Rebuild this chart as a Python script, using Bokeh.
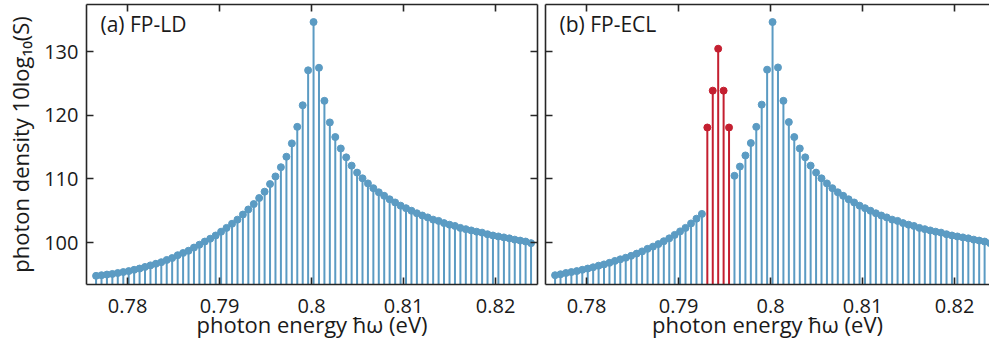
from bokeh.plotting import figure
from bokeh.models import LinearAxis, Range1d, FixedTicker, ColumnDataSource, Label
from bokeh.layouts import row
from bokeh.embed import file_html
from bokeh.resources import INLINE

# ---------------- data ----------------
energy = [
    0.77658, 0.77717, 0.77776, 0.77835, 0.77894, 0.77954, 0.78013, 0.78072, 0.78131, 0.78190,
    0.78249, 0.78308, 0.78367, 0.78426, 0.78485, 0.78545, 0.78604, 0.78663, 0.78722, 0.78781,
    0.78840, 0.78899, 0.78958, 0.79017, 0.79076, 0.79136, 0.79195, 0.79254, 0.79313, 0.79372,
    0.79431, 0.79490, 0.79549, 0.79608, 0.79667, 0.79727, 0.79786, 0.79845, 0.79904, 0.79963,
    0.80022,
    0.80081, 0.80140, 0.80199, 0.80258, 0.80318, 0.80377, 0.80436, 0.80495, 0.80554, 0.80613,
    0.80672, 0.80731, 0.80790, 0.80849, 0.80909, 0.80968, 0.81027, 0.81086, 0.81145, 0.81204,
    0.81263, 0.81322, 0.81381, 0.81440, 0.81500, 0.81559, 0.81618, 0.81677, 0.81736, 0.81795,
    0.81854, 0.81913, 0.81972, 0.82031, 0.82091, 0.82150, 0.82209, 0.82268, 0.82327, 0.82386,
]

ld_density = [
    94.75, 94.85, 94.95, 95.05, 95.2, 95.35, 95.5, 95.7, 95.9, 96.15,
    96.4, 96.65, 96.9, 97.25, 97.55, 98.0, 98.35, 98.7, 99.2, 99.65,
    100.15, 100.6, 101.1, 101.7, 102.3, 102.95, 103.6, 104.4, 105.2, 106.05,
    107.0, 108.0, 109.2, 110.4, 111.85, 113.5, 115.6, 118.2, 121.6, 127.1,
    134.7,
    127.5, 122.3, 118.9, 116.6, 114.8, 113.4, 112.1, 111.0, 110.1, 109.3,
    108.55, 107.9, 107.35, 106.8, 106.3, 105.8, 105.4, 105.0, 104.6, 104.25,
    103.95, 103.6, 103.4, 103.05, 102.8, 102.6, 102.3, 102.1, 101.9, 101.7,
    101.55, 101.3, 101.1, 100.95, 100.8, 100.65, 100.45, 100.3, 100.15, 99.9,
]

ecl_density = [
    94.85, 95.0, 95.2, 95.35, 95.5, 95.7, 95.9, 96.1, 96.35, 96.55,
    96.8, 97.1, 97.35, 97.6, 97.9, 98.25, 98.6, 99.0, 99.35, 99.75,
    100.2, 100.65, 101.2, 101.75, 102.3, 103.0, 103.75, 104.5, 118.1, 123.9,
    130.5, 123.9, 118.1, 110.5, 111.95, 113.7, 115.65, 118.2, 121.7, 127.2,
    134.7,
    127.55, 122.3, 118.95, 116.6, 114.8, 113.4, 112.1, 111.0, 110.1, 109.3,
    108.55, 107.9, 107.35, 106.8, 106.3, 105.8, 105.4, 105.0, 104.6, 104.25,
    103.95, 103.6, 103.4, 103.05, 102.8, 102.6, 102.3, 102.1, 101.9, 101.7,
    101.55, 101.3, 101.1, 100.95, 100.8, 100.65, 100.45, 100.3, 100.15, 99.9,
]

# indices of the external-cavity (red) modes in panel (b)
ecl_locked = [28, 29, 30, 31, 32]

x_ticks = [0.78, 0.79, 0.80, 0.81, 0.82]
x_tick_labels = ["0.78", "0.79", "0.8", "0.81", "0.82"]
y_ticks = [100, 110, 120, 130]
y_tick_labels = ["100", "110", "120", "130"]

panel_titles = ["(a) FP-LD", "(b) FP-ECL"]
x_title = "photon energy \u0127\u03c9 (eV)"
y_title = "photon density 10log\u2081\u2080(S)"

# ---------------- style ----------------
BLUE = "#5b9bc3"
RED = "#c41f30"
INK = "#262626"
TXT = "#1a1a1a"
FONT = "Open Sans"
X_START = 0.77554
PX_PER_EV = 9200.0
Y_RANGE = (93.39, 137.46)
STEM_BASE = 90.0
H = 350
MB_TOP = 4
MB_BOTTOM = 66
FRAME_H = H - MB_TOP - MB_BOTTOM


def style_axis(ax, ticks, show_labels, overrides=None):
    ax.ticker = FixedTicker(ticks=ticks)
    ax.axis_line_color = INK
    ax.axis_line_width = 1.6
    ax.major_tick_line_color = INK
    ax.major_tick_line_width = 1.6
    ax.major_tick_in = 7
    ax.major_tick_out = 0
    ax.minor_tick_line_color = None
    ax.major_label_text_font = FONT
    ax.major_label_text_color = TXT
    ax.axis_label_text_font = FONT
    ax.axis_label_text_font_style = "normal"
    ax.axis_label_text_color = TXT
    ax.axis_label_text_line_height = 1.0
    ax.major_label_text_line_height = 1.0
    if show_labels:
        ax.major_label_text_font_size = "20px"
        ax.major_label_standoff = 8
        if overrides:
            ax.major_label_overrides = overrides
    else:
        ax.major_label_text_font_size = "0px"
        ax.major_label_text_color = None
        ax.major_label_standoff = 0


def make_panel(width, frame_w, min_left, min_right, show_y_labels, show_y_title,
               title, values, red_idx, right_axis):
    x_end = X_START + frame_w / PX_PER_EV
    p = figure(width=width, height=H, output_backend="svg", toolbar_location=None,
               x_range=Range1d(X_START, x_end), y_range=Range1d(*Y_RANGE),
               min_border_left=min_left, min_border_right=min_right,
               min_border_top=MB_TOP, min_border_bottom=MB_BOTTOM)
    p.outline_line_color = None
    p.grid.visible = False
    p.background_fill_color = "white"
    p.border_fill_color = "white"

    top = LinearAxis()
    p.add_layout(top, "above")
    style_axis(top, x_ticks, False)
    if right_axis:
        rgt = LinearAxis()
        p.add_layout(rgt, "right")
        style_axis(rgt, y_ticks, False)

    bx = p.below[0]
    style_axis(bx, x_ticks, True, {t: s for t, s in zip(x_ticks, x_tick_labels)})
    bx.major_label_standoff = 14
    bx.axis_label = x_title
    bx.axis_label_text_font_size = "22px"
    bx.axis_label_standoff = -7

    ly = p.left[0]
    style_axis(ly, y_ticks, show_y_labels, {t: s for t, s in zip(y_ticks, y_tick_labels)})
    if show_y_title:
        ly.axis_label = y_title
        ly.axis_label_text_font_size = "22px"
        ly.axis_label_standoff = 6

    colors = [RED if i in red_idx else BLUE for i in range(len(energy))]
    src = ColumnDataSource(dict(x=energy, y=values, base=[STEM_BASE] * len(energy), c=colors))
    p.segment(x0="x", y0="base", x1="x", y1="y", line_color="c", line_width=2, source=src)
    p.scatter("x", "y", size=7, fill_color="c", line_color="c", source=src)

    # panel tag
    p.add_layout(Label(x=14, y=FRAME_H - 19, x_units="screen", y_units="screen", text=title,
                       text_font=FONT, text_font_size="21px", text_color=TXT,
                       text_baseline="alphabetic"))
    return p


p1 = make_panel(541, 451, 86, 4, True, True, panel_titles[0], ld_density, [], True)
p2 = make_panel(448, 444, 4, 0, False, False, panel_titles[1], ecl_density, ecl_locked, False)

layout = row(p1, p2)
open("out.html", "w").write(file_html(layout, INLINE))
